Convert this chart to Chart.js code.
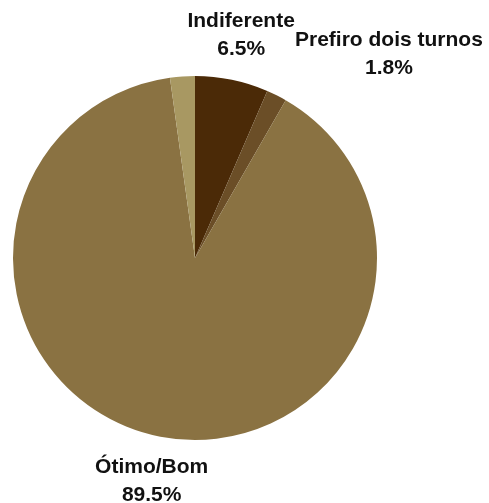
<!DOCTYPE html>
<html>
<head>
<meta charset="utf-8">
<script src="https://cdn.jsdelivr.net/npm/chart.js@4"></script>
<style>
  html, body { margin: 0; padding: 0; background: #fff; }
  #wrap { width: 489px; height: 503px; position: relative; }
</style>
</head>
<body>
<div id="wrap"><canvas id="pieChart"></canvas></div>
<script>
// dados da pizza (sentido horário a partir do topo)
const categories = ['Indiferente', 'Prefiro dois turnos', 'Ótimo/Bom', ''];
const values = [6.5, 1.8, 89.5, 2.2];
const showLabel = [true, true, true, false];

const sliceColors = ['#4b2a07', '#6b4e27', '#8a7242', '#a89862'];
// como o rótulo se prende ao ponto radial: centrado ou começando nele
const labelAnchor = ['center', 'left', 'center', 'center'];

const pieLabels = {
    id: 'pieLabels',
    afterDatasetsDraw(chart) {
        const ctx = chart.ctx;
        const meta = chart.getDatasetMeta(0);
        ctx.save();
        ctx.font = 'bold 21px "Liberation Sans", Arial, sans-serif';
        ctx.fillStyle = '#111';
        ctx.textAlign = 'center';
        ctx.textBaseline = 'middle';
        meta.data.forEach(function (arc, i) {
            if (!showLabel[i]) return;
            const p = arc.getProps(['x', 'y', 'startAngle', 'endAngle', 'outerRadius'], true);
            const mid = (p.startAngle + p.endAngle) / 2;
            const dist = p.outerRadius * 1.25;
            let x = p.x + Math.cos(mid) * dist;
            const y = p.y + Math.sin(mid) * dist;
            const lines = [categories[i], values[i].toFixed(1) + '%'];
            if (labelAnchor[i] === 'left') {
                const w = Math.max(...lines.map(t => ctx.measureText(t).width));
                x += w / 2 - 2;
            }
            ctx.fillText(lines[0], x, y - 14);
            ctx.fillText(lines[1], x, y + 14);
        });
        ctx.restore();
    }
};

new Chart(document.getElementById('pieChart'), {
    type: 'pie',
    data: {
        labels: categories,
        datasets: [{
            data: values,
            backgroundColor: sliceColors,
            borderWidth: 0
        }]
    },
    options: {
        responsive: true,
        maintainAspectRatio: false,
        animation: false,
        layout: { padding: { left: 13, right: 112, top: 76, bottom: 63 } },
        plugins: {
            legend: { display: false },
            tooltip: { enabled: false }
        }
    },
    plugins: [pieLabels]
});
</script>
</body>
</html>
